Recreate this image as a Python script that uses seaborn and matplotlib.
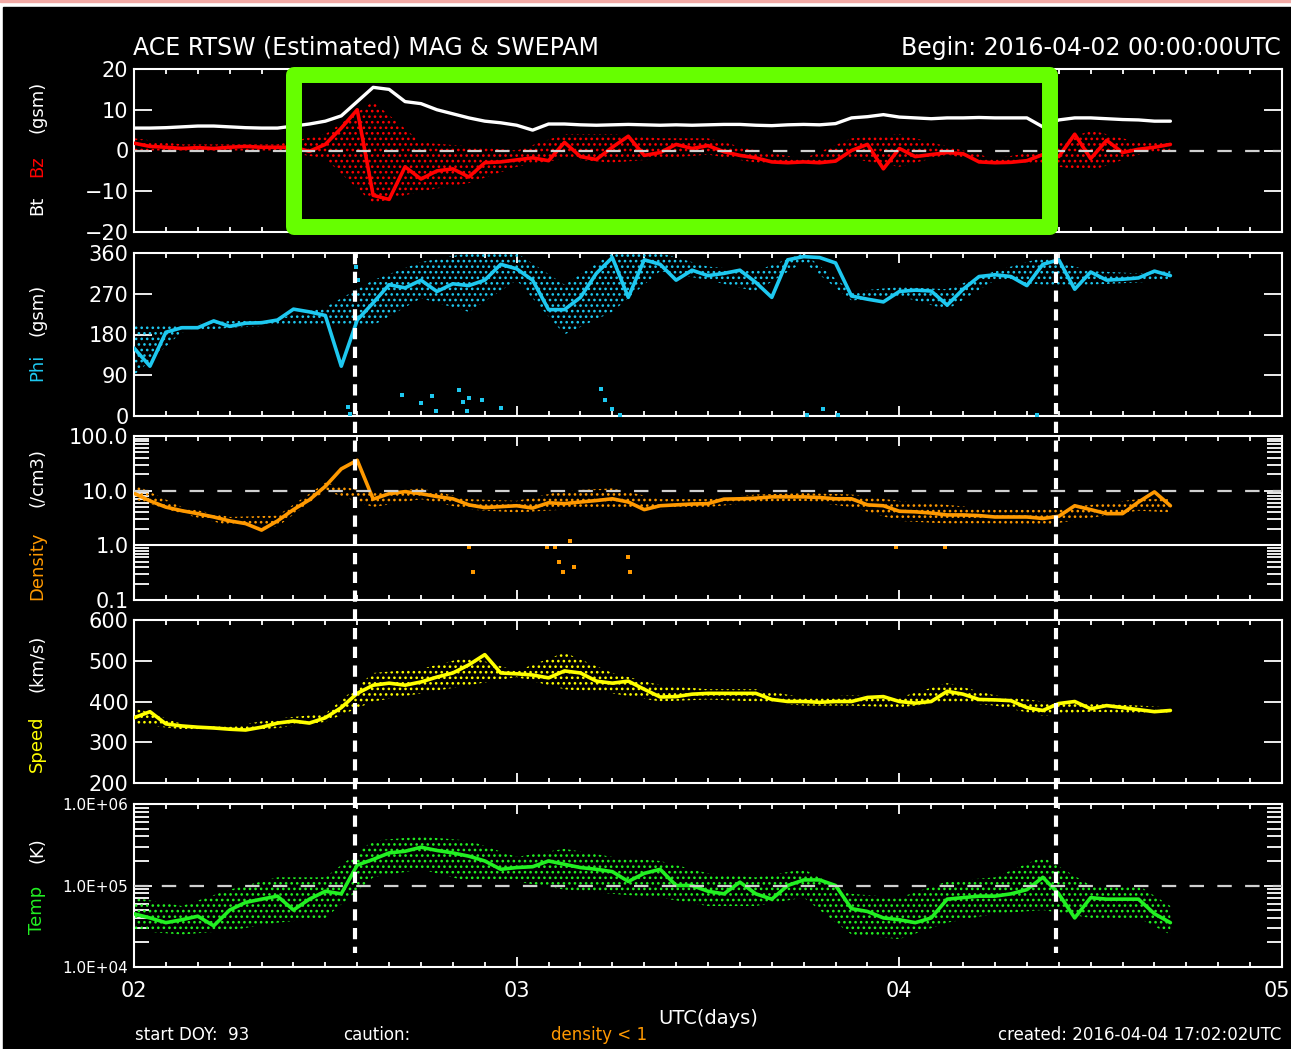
import numpy as np
import pandas as pd
import matplotlib
matplotlib.use("Agg")
import matplotlib.pyplot as plt
import matplotlib.transforms as mtransforms
from matplotlib.lines import Line2D
from matplotlib.patches import Rectangle
from matplotlib.ticker import FixedLocator, FixedFormatter, NullFormatter, MultipleLocator
import seaborn as sns

# hourly samples, hours since 2016-04-02 00:00 UTC
hours = list(range(66))
# spread of the scattered points, every 3 hours
env_hours = [0, 3, 6, 9, 12, 15, 18, 21, 24, 27, 30, 33, 36, 39, 42, 45, 48, 51, 54, 57, 60, 63, 65]

bt = [5.5, 5.5, 5.6, 5.8, 6.0, 6.0, 5.8, 5.6, 5.5, 5.5,
      6.0, 6.5, 7.2, 8.5, 12, 15.5, 15, 12, 11.5, 10,
      9, 8, 7.2, 6.8, 6.2, 5.0, 6.5, 6.5, 6.3, 6.2,
      6.3, 6.4, 6.3, 6.2, 6.3, 6.2, 6.3, 6.4, 6.4, 6.2,
      6.1, 6.3, 6.4, 6.3, 6.6, 8.0, 8.3, 8.8, 8.2, 8.0,
      7.8, 8.0, 8.0, 8.1, 8.0, 8.0, 8.0, 5.8, 7.5, 8.0,
      8.0, 7.8, 7.6, 7.5, 7.2, 7.2]
bz = [1.8, 1.0, 0.8, 0.5, 0.7, 0.5, 0.8, 1.0, 0.8, 0.8,
      0.8, -0.2, 1.5, 5.5, 10, -11, -12, -4, -7, -5,
      -4.5, -6.5, -3, -2.8, -2.3, -1.8, -2.5, 2.0, -1.5, -2.2,
      0.8, 3.5, -1.2, -0.5, 1.5, 0.5, 1.2, -0.3, -1.2, -1.8,
      -2.8, -3.0, -2.8, -3.0, -2.6, 0.0, 1.5, -4.5, 0.5, -1.5,
      -1.0, -0.5, -0.8, -2.8, -3.0, -2.9, -2.5, -1.0, -1.5, 4.0,
      -2.0, 2.5, -0.5, 0.3, 0.8, 1.5]
bz_lo = [0, 0, 0, 0, -2, -13, -10, -8, -4, -2, -3, -2, -1, -3, -3.5, -2, -4, -1, -3.5, -3.5, -5, -1, 0]
bz_hi = [3, 1.5, 1.5, 1.5, 4, 12, 2, 1, 0, 4, 4, 3, 3, 0, -2, 3, 4, 1, -2, 0, 5, 2, 2.5]

phi = [150, 110, 185, 195, 195, 210, 198, 205, 206, 212,
       236, 230, 222, 110, 212, 250, 290, 283, 300, 275,
       292, 288, 300, 335, 325, 300, 235, 235, 262, 315,
       350, 262, 345, 335, 300, 322, 310, 315, 322, 295,
       262, 345, 352, 350, 338, 265, 258, 252, 275, 278,
       276, 245, 280, 308, 312, 308, 288, 335, 345, 280,
       318, 300, 302, 305, 320, 310]
phi_lo = [90, 185, 195, 200, 200, 200, 260, 230, 300, 180, 230, 320, 300, 275, 340, 255, 265, 235, 300, 290, 290, 295, 300]
phi_hi = [200, 200, 210, 215, 240, 300, 340, 360, 360, 290, 360, 360, 330, 320, 360, 275, 285, 280, 320, 350, 320, 315, 320]
phi_out_days = [0.56, 0.565, 0.58, 0.585, 0.70, 0.75, 0.78, 0.79, 0.85, 0.86, 0.87, 0.875,
                0.91, 0.96, 1.22, 1.23, 1.25, 1.27, 1.76, 1.80, 1.84, 2.36]
phi_out = [20, 5, 330, 300, 47, 28, 45, 12, 58, 30, 10, 40,
           35, 18, 60, 35, 15, 3, 2, 15, 3, 2]

dens = [9, 6.5, 5, 4.3, 3.8, 3.3, 2.8, 2.5, 1.9, 2.8,
        4.5, 6.8, 12, 25, 36, 7, 8.8, 9.6, 8.8, 7.8,
        7.1, 5.5, 4.9, 5.1, 5.3, 4.8, 6.0, 5.8, 6.2, 6.6,
        7.1, 6.2, 4.5, 5.3, 5.5, 5.7, 5.8, 7.0, 7.1, 7.3,
        7.7, 7.7, 7.7, 7.5, 7.1, 7.1, 5.5, 5.3, 4.2, 4.1,
        3.9, 3.6, 3.6, 3.5, 3.3, 3.3, 3.3, 3.1, 3.4, 5.3,
        4.5, 3.8, 3.8, 6.2, 9.5, 5.3]
dens_lo = [7, 3.8, 2.3, 2.2, 10, 5, 7, 4.5, 4, 4.5, 5, 4.5, 5, 6.2, 6.5, 5, 2.8, 2.5, 2.5, 2.3, 3.2, 4.3, 4]
dens_hi = [13, 5, 3.3, 3.5, 14, 9, 11, 7, 6.5, 10, 11, 7, 7, 8.5, 9, 8.5, 6.5, 5.5, 4.5, 4.5, 5.5, 7, 7]
dens_out_days = [0.875, 0.885, 1.08, 1.10, 1.11, 1.12, 1.14, 1.15, 1.29, 1.295, 1.99, 2.12]
dens_out = [0.95, 0.33, 0.95, 0.95, 0.5, 0.33, 1.2, 0.4, 0.6, 0.33, 0.95, 0.95]

speed = [360, 375, 345, 340, 337, 335, 332, 330, 337, 347,
         352, 347, 360, 385, 420, 440, 445, 440, 448, 460,
         470, 490, 515, 470, 468, 465, 458, 475, 470, 450,
         445, 450, 430, 411, 412, 418, 420, 420, 420, 420,
         405, 400, 400, 398, 400, 400, 410, 412, 400, 396,
         400, 425, 418, 405, 404, 402, 385, 378, 395, 400,
         382, 390, 385, 380, 375, 378]
speed_lo = [345, 332, 325, 335, 350, 400, 420, 440, 460, 430, 420, 400, 405, 400, 390, 390, 385, 400, 390, 365, 375, 370, 370]
speed_hi = [385, 345, 338, 358, 370, 470, 480, 510, 475, 520, 470, 440, 430, 430, 410, 415, 410, 445, 415, 400, 395, 390, 385]

temp = [45000, 40000, 35000, 38000, 42000, 32000, 50000, 62000, 68000, 74000,
        50000, 68000, 85000, 79000, 178000, 209000, 251000, 263000, 295000, 269000,
        251000, 229000, 200000, 158000, 166000, 170000, 200000, 182000, 166000, 158000,
        148000, 112000, 141000, 158000, 100000, 100000, 85000, 79000, 110000, 79000,
        68000, 100000, 117000, 117000, 100000, 52000, 48000, 40000, 38000, 35000,
        40000, 68000, 71000, 74000, 74000, 79000, 89000, 126000, 79000, 40000,
        71000, 68000, 68000, 68000, 45000, 35000]
temp_lo = [28000, 25000, 28000, 35000, 40000, 126000, 158000, 112000, 112000, 89000, 79000, 71000,
           56000, 56000, 71000, 25000, 22000, 35000, 45000, 50000, 40000, 40000, 25000]
temp_hi = [71000, 56000, 89000, 126000, 126000, 355000, 398000, 355000, 224000, 282000, 224000, 200000,
           141000, 126000, 158000, 79000, 71000, 112000, 126000, 224000, 100000, 100000, 56000]

event_days = [0.577, 2.41]
day_labels = ["02", "03", "04", "05"]

W, H = 1291, 1049
sns.set_theme(style="ticks", rc={"axes.facecolor": "black", "figure.facecolor": "white",
                                 "hatch.linewidth": 1.1})
plt.rcParams["font.family"] = ["DejaVu Sans"]

fig = plt.figure(figsize=(W / 100, H / 100), dpi=100)
fig.add_artist(Rectangle((3 / W, 0), 1, 1 - 7 / H, transform=fig.transFigure,
                         color="black", zorder=-10))
fig.add_artist(Rectangle((0, 1 - 2 / H), 1, 2 / H, transform=fig.transFigure,
                         color="#f2aaa6", zorder=-10))

t = np.array(hours) / 24.0
te = np.array(env_hours) / 24.0


def panel(top, bottom):
    ax = fig.add_axes([134 / W, 1 - bottom / H, (1282 - 134) / W, (bottom - top) / H])
    ax.set_facecolor("black")
    for s in ax.spines.values():
        s.set_color("white")
        s.set_linewidth(1.5)
    ax.set_xlim(0, 3)
    ax.xaxis.set_major_locator(FixedLocator([0, 1, 2, 3]))
    ax.xaxis.set_minor_locator(MultipleLocator(1 / 12))
    ax.tick_params(axis="x", which="both", direction="in", top=True, bottom=True,
                   colors="white", width=1.3, labelbottom=False)
    ax.tick_params(axis="x", which="major", length=7)
    ax.tick_params(axis="x", which="minor", length=3.5)
    ax.tick_params(axis="y", which="both", direction="in", left=True, right=True,
                   colors="white", width=1.3, labelsize=15, pad=4)
    ax.tick_params(axis="y", which="major", length=13)
    ax.tick_params(axis="y", which="minor", length=11)
    ax.set_xlabel("")
    ax.set_ylabel("")
    return ax


def draw(ax, v, lo, hi, color):
    if lo is not None:
        ax.fill_between(te, lo, hi, facecolor="none", edgecolor=color, hatch="...",
                        linewidth=0, zorder=2)
    sns.lineplot(x=t, y=v, ax=ax, color=color, lw=2.6, estimator=None, sort=False, zorder=3)


dash_kw = dict(color="#d0d0d0", lw=1.6, dashes=(6.5, 6), zorder=5)

# Bt / Bz
ax1 = panel(69, 232)
ax1.set_ylim(-20, 20)
draw(ax1, bz, bz_lo, bz_hi, "#ff0000")
sns.lineplot(x=t, y=bt, ax=ax1, color="white", lw=2.4, estimator=None, sort=False, zorder=4)
ax1.axhline(0, **dash_kw)
ax1.yaxis.set_major_locator(FixedLocator([-20, -10, 0, 10, 20]))
ax1.yaxis.set_major_formatter(FixedFormatter(["\u221220", "\u221210", "0", "10", "20"]))

# Phi
ax2 = panel(253, 416)
ax2.set_ylim(0, 360)
draw(ax2, phi, phi_lo, phi_hi, "#1ec8f0")
sns.scatterplot(x=phi_out_days, y=phi_out, ax=ax2, color="#1ec8f0", s=8, marker="s",
                linewidth=0, zorder=3)
ax2.yaxis.set_major_locator(FixedLocator([0, 90, 180, 270, 360]))

# Density
ax3 = panel(436, 600)
ax3.set_yscale("log")
ax3.set_ylim(0.1, 100)
draw(ax3, dens, dens_lo, dens_hi, "#ff9900")
sns.scatterplot(x=dens_out_days, y=dens_out, ax=ax3, color="#ff9900", s=8, marker="s",
                linewidth=0, zorder=3)
ax3.axhline(10, **dash_kw)
ax3.axhline(1, color="white", lw=1.5, zorder=5)
ax3.yaxis.set_major_locator(FixedLocator([0.1, 1, 10, 100]))
ax3.yaxis.set_major_formatter(FixedFormatter(["0.1", "1.0", "10.0", "100.0"]))
ax3.yaxis.set_minor_locator(FixedLocator([m * d for d in (0.1, 1, 10) for m in range(2, 10)]))
ax3.yaxis.set_minor_formatter(NullFormatter())

# Speed
ax4 = panel(620, 783)
ax4.set_ylim(200, 600)
draw(ax4, speed, speed_lo, speed_hi, "#ffff00")
ax4.yaxis.set_major_locator(FixedLocator([200, 300, 400, 500, 600]))

# Temperature
ax5 = panel(804, 967)
ax5.set_yscale("log")
ax5.set_ylim(1e4, 1e6)
draw(ax5, temp, temp_lo, temp_hi, "#22f022")
ax5.axhline(1e5, **dash_kw)
ax5.yaxis.set_major_locator(FixedLocator([1e4, 1e5, 1e6]))
ax5.yaxis.set_major_formatter(FixedFormatter(["1.0E+04", "1.0E+05", "1.0E+06"]))
ax5.yaxis.set_minor_locator(FixedLocator([m * d for d in (1e4, 1e5) for m in range(2, 10)]))
ax5.yaxis.set_minor_formatter(NullFormatter())
ax5.tick_params(axis="y", labelsize=11)
ax5.set_xticks([0, 1, 2, 3])
ax5.set_xticklabels(day_labels)
ax5.tick_params(axis="x", labelbottom=True, labelsize=15, pad=10)
# keep the last day label inside the canvas
last = ax5.get_xticklabels()[-1]
last.set_transform(last.get_transform() + mtransforms.ScaledTranslation(-5 / 100, 0, fig.dpi_scale_trans))

# event markers
tr = mtransforms.blended_transform_factory(ax5.transData, fig.transFigure)
for d in event_days:
    fig.add_artist(Line2D([d, d], [1 - 253 / H, 1 - 953 / H], transform=tr, color="white",
                          lw=3, linestyle=(0, (2.7, 1.8)), zorder=20))

# texts
def ftext(x, y, s, **kw):
    kw.setdefault("color", "white")
    fig.text(x / W, 1 - y / H, s, **kw)

ftext(133, 48, "ACE RTSW (Estimated) MAG & SWEPAM", ha="left", va="center", size=17)
ftext(1281, 48, "Begin: 2016-04-02 00:00:00UTC", ha="right", va="center", size=17)
ftext(708, 1018, "UTC(days)", ha="center", va="center", size=14)
ftext(135, 1035, "start DOY:  93", ha="left", va="center", size=12)
ftext(343, 1035, "caution:", ha="left", va="center", size=12)
ftext(551, 1035, "density < 1", ha="left", va="center", size=12, color="#ff9900")
ftext(1281, 1035, "created: 2016-04-04 17:02:02UTC", ha="right", va="center", size=12)

ylab = dict(rotation=90, ha="center", va="center", size=13)
ftext(37, 205, "Bt", **ylab)
ftext(37, 166, "Bz", color="#ff0000", **ylab)
ftext(37, 107, "(gsm)", **ylab)
ftext(37, 367, "Phi", color="#1ec8f0", **ylab)
ftext(37, 310, "(gsm)", **ylab)
ftext(37, 566, "Density", color="#ff9900", **ylab)
ftext(37, 477, "(/cm3)", **ylab)
ftext(37, 744, "Speed", color="#ffff00", **ylab)
ftext(37, 663, "(km/s)", **ylab)
ftext(37, 910, "Temp", color="#22f022", **ylab)
ftext(37, 850, "(K)", **ylab)

# highlight box
fig.add_artist(Rectangle((294 / W, 1 - 227 / H), (1050 - 294) / W, (227 - 75) / H,
                         transform=fig.transFigure, fill=False, edgecolor="#66ff00",
                         lw=11.5, joinstyle="round", zorder=30))

fig.savefig("out.png", dpi=100, facecolor=fig.get_facecolor())
